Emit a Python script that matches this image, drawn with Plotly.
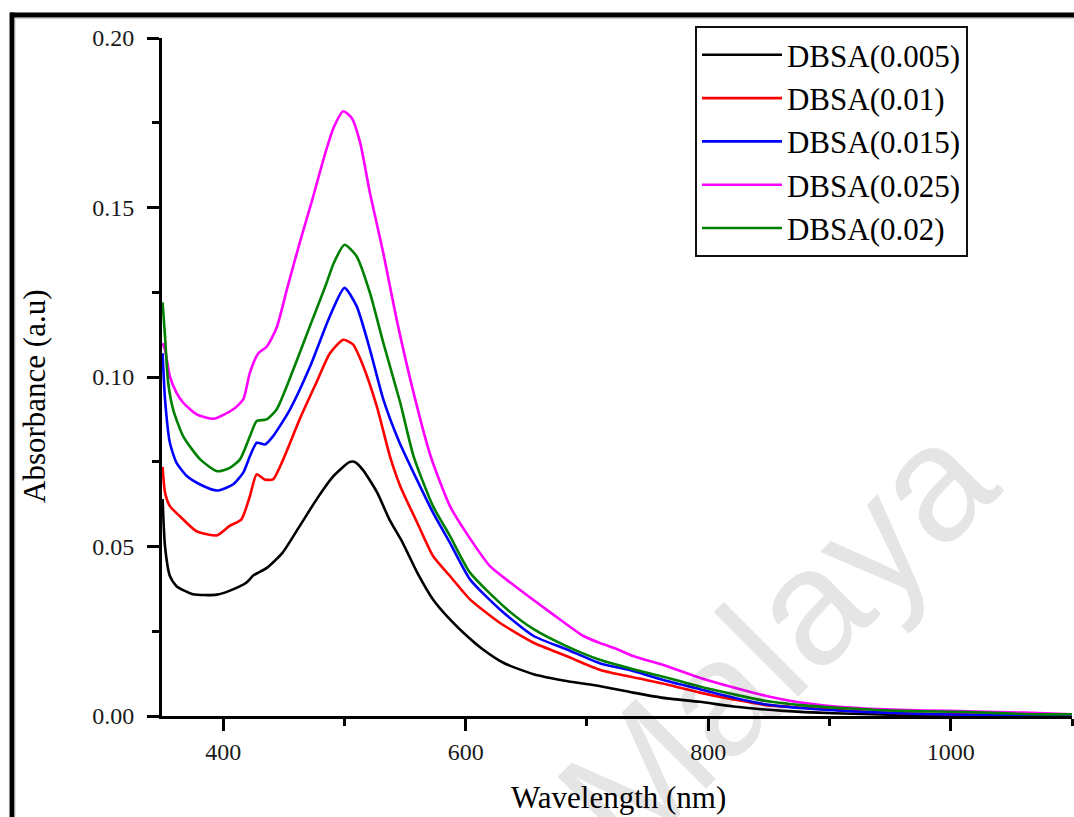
import plotly.graph_objects as go

# ---------------- data ----------------
series_names = ["DBSA(0.005)", "DBSA(0.01)", "DBSA(0.015)", "DBSA(0.025)", "DBSA(0.02)"]
series_colors = ["#000000", "#ff0000", "#0000ff", "#ff00ff", "#008000"]

wl_005 = [350, 352, 356, 361.5, 375, 395, 405, 419, 425, 436, 449, 463, 477, 491, 504, 508, 515,
          527, 537, 548, 560, 573, 587, 601, 614, 631, 656, 683, 711, 738, 766, 793, 821, 862,
          903, 950, 1000, 1050, 1100]
abs_005 = [0.064, 0.050, 0.0413, 0.0383, 0.0359, 0.0358, 0.0369, 0.0393, 0.0415, 0.0437, 0.0482,
           0.056, 0.0639, 0.0708, 0.0749, 0.0750, 0.0727, 0.0659, 0.058, 0.0511, 0.0423, 0.0344,
           0.0285, 0.0236, 0.0197, 0.0157, 0.0123, 0.0103, 0.0088, 0.0069, 0.0052, 0.0042,
           0.0028, 0.0015, 0.0008, 0.0004, 0.0002, 0.0001, 0.0]

wl_01 = [350, 352, 356, 364, 378, 395, 405, 415, 422, 427.6, 434, 441, 449.5, 463, 477, 488, 499,
         507, 515.5, 526.6, 537.5, 546, 560, 573, 587, 603.5, 628, 656, 683, 711, 738, 766, 793,
         821, 848, 876, 917, 958, 1000, 1050, 1100]
abs_01 = [0.0735, 0.0659, 0.0619, 0.059, 0.0545, 0.0533, 0.056, 0.058, 0.0649, 0.0713, 0.0698,
          0.0698, 0.0757, 0.0875, 0.0985, 0.107, 0.111, 0.1096, 0.1032, 0.0914, 0.0766, 0.0678,
          0.057, 0.0472, 0.0413, 0.0344, 0.0275, 0.0216, 0.0177, 0.0136, 0.0114, 0.0093, 0.0069,
          0.0049, 0.0032, 0.0025, 0.0015, 0.0008, 0.0005, 0.0003, 0.0001]

wl_015 = [350, 352, 356, 361.5, 370, 381, 395, 408, 416.5, 422, 427.6, 434.4, 441, 455, 471.5,
          488, 500, 510, 521, 532, 545, 559.6, 573, 587, 603.5, 628, 656, 683, 711, 738, 766,
          793, 821, 848, 889, 944, 985, 1050, 1100]
abs_015 = [0.107, 0.0934, 0.0806, 0.0747, 0.0708, 0.0683, 0.0665, 0.0683, 0.0718, 0.0766, 0.0806,
           0.0801, 0.0825, 0.0904, 0.103, 0.118, 0.1263, 0.1209, 0.1081, 0.0934, 0.081, 0.0698,
           0.060, 0.0511, 0.0403, 0.0315, 0.0236, 0.0197, 0.0155, 0.0133, 0.0103, 0.0079,
           0.0054, 0.0034, 0.0020, 0.0010, 0.0005, 0.0003, 0.0001]

wl_025 = [350, 352, 356, 361.5, 367, 378, 392, 408, 416.5, 422, 429, 436, 444, 453, 463, 474,
          482.5, 491, 499, 506, 513, 521, 532, 543, 557, 571, 587, 604, 620, 637, 670, 697, 711,
          725, 738, 766, 793, 821, 848, 876, 917, 958, 999, 1060, 1100]
abs_025 = [0.110, 0.108, 0.1002, 0.0953, 0.0924, 0.089, 0.0877, 0.0904, 0.0934, 0.1013, 0.107,
           0.109, 0.1145, 0.1265, 0.1395, 0.153, 0.164, 0.1735, 0.1784, 0.1764, 0.169, 0.1543,
           0.1366, 0.117, 0.0953, 0.0767, 0.0619, 0.0521, 0.0442, 0.0393, 0.0305, 0.0236,
           0.0215, 0.0197, 0.0177, 0.0147, 0.0113, 0.0084, 0.0059, 0.0040, 0.0025, 0.0018,
           0.0015, 0.0010, 0.0005]

wl_02 = [350, 352, 354.6, 358.7, 367, 381, 395, 405.5, 413.8, 422, 427.6, 435.8, 444, 457.8,
         471.5, 485, 491, 500, 510, 521, 532, 546, 557, 573, 587, 603.5, 634, 656, 683, 711, 738,
         766, 793, 821, 848, 876, 917, 958, 1013, 1068, 1100]
abs_02 = [0.122, 0.112, 0.0983, 0.0904, 0.0825, 0.0757, 0.0722, 0.0732, 0.0757, 0.0825, 0.087,
          0.0875, 0.0904, 0.1022, 0.115, 0.1275, 0.1335, 0.139, 0.1356, 0.1248, 0.1101, 0.0924,
          0.0766, 0.0619, 0.0531, 0.0423, 0.0315, 0.0256, 0.0206, 0.0165, 0.0138, 0.0113,
          0.0087, 0.0064, 0.0044, 0.0032, 0.0022, 0.0015, 0.0012, 0.0005, 0.0005]

x_ticks = [400, 600, 800, 1000]
y_ticks = [0.00, 0.05, 0.10, 0.15, 0.20]
x_title = "Wavelength (nm)"
y_title = "Absorbance (a.u)"
watermark = "Malaya"

# ---------------- figure ----------------
SERIF = "Liberation Serif, Times New Roman, serif"
all_wl = [wl_005, wl_01, wl_015, wl_025, wl_02]
all_abs = [abs_005, abs_01, abs_015, abs_025, abs_02]

fig = go.Figure()
for name, color, xs, ys in zip(series_names, series_colors, all_wl, all_abs):
    fig.add_trace(go.Scatter(
        x=xs, y=ys, mode="lines", name=name,
        line=dict(color=color, width=2.6, shape="spline", smoothing=0.6),
    ))

axis_common = dict(
    showgrid=False, zeroline=False, showline=True, linecolor="black", linewidth=3,
    ticks="outside", ticklen=12, tickwidth=3, tickcolor="black",
    tickfont=dict(family=SERIF, size=24, color="#1a1a1a"),
    mirror=False,
)

fig.update_xaxes(
    range=[349.5, 1100], tickmode="array", tickvals=x_ticks,
    ticktext=[str(v) for v in x_ticks],
    minor=dict(ticks="outside", ticklen=7, tickwidth=3, tickcolor="black", dtick=100, tick0=0),
    ticklabelstandoff=0,
    **axis_common,
)
fig.update_yaxes(
    range=[0, 0.2], tickmode="array", tickvals=y_ticks,
    ticktext=[f"{v:.2f}" for v in y_ticks],
    minor=dict(ticks="outside", ticklen=7, tickwidth=3, tickcolor="black", dtick=0.025, tick0=0),
    ticklabelstandoff=8,
    **axis_common,
)

fig.update_layout(
    width=1074, height=817,
    margin=dict(l=162, r=2, t=38, b=101, pad=0),
    paper_bgcolor="white", plot_bgcolor="white",
    showlegend=True,
    legend=dict(
        x=0.5857, y=1.0175, xanchor="left", yanchor="top",
        bgcolor="white", bordercolor="#111111", borderwidth=2,
        font=dict(family=SERIF, size=31, color="black"),
        itemwidth=80, tracegroupgap=0,
    ),
    annotations=[
        dict(text=x_title, xref="paper", yref="paper", x=0.5016, y=-0.120,
             xanchor="center", yanchor="middle", showarrow=False,
             font=dict(family=SERIF, size=31, color="black")),
        dict(text=y_title, xref="paper", yref="paper", x=-0.1396, y=0.472,
             xanchor="center", yanchor="middle", showarrow=False, textangle=-90,
             font=dict(family=SERIF, size=31, color="black")),
        dict(text=watermark, xref="paper", yref="paper", x=0.675, y=0.115,
             xanchor="center", yanchor="middle", showarrow=False, textangle=-45,
             font=dict(family="Liberation Sans, Arial, sans-serif", size=165,
                       color="rgba(0,0,0,0.10)")),
    ],
    shapes=[
        # frame around the figure (top and left edges)
        dict(type="line", xref="paper", yref="paper", x0=-0.167, x1=1.2,
             y0=1.0339, y1=1.0339, line=dict(color="black", width=5)),
        dict(type="line", xref="paper", yref="paper", x0=-0.1648, x1=-0.1648,
             y0=1.0375, y1=-0.2, line=dict(color="black", width=5)),
        dict(type="line", xref="paper", yref="paper", x0=-0.162, x1=1.2,
             y0=1.0286, y1=1.0286, line=dict(color="#c8c8c8", width=1)),
        dict(type="line", xref="paper", yref="paper", x0=-0.1615, x1=-0.1615,
             y0=1.0286, y1=-0.2, line=dict(color="#c8c8c8", width=1)),
    ],
)

fig.write_html("out.html")
